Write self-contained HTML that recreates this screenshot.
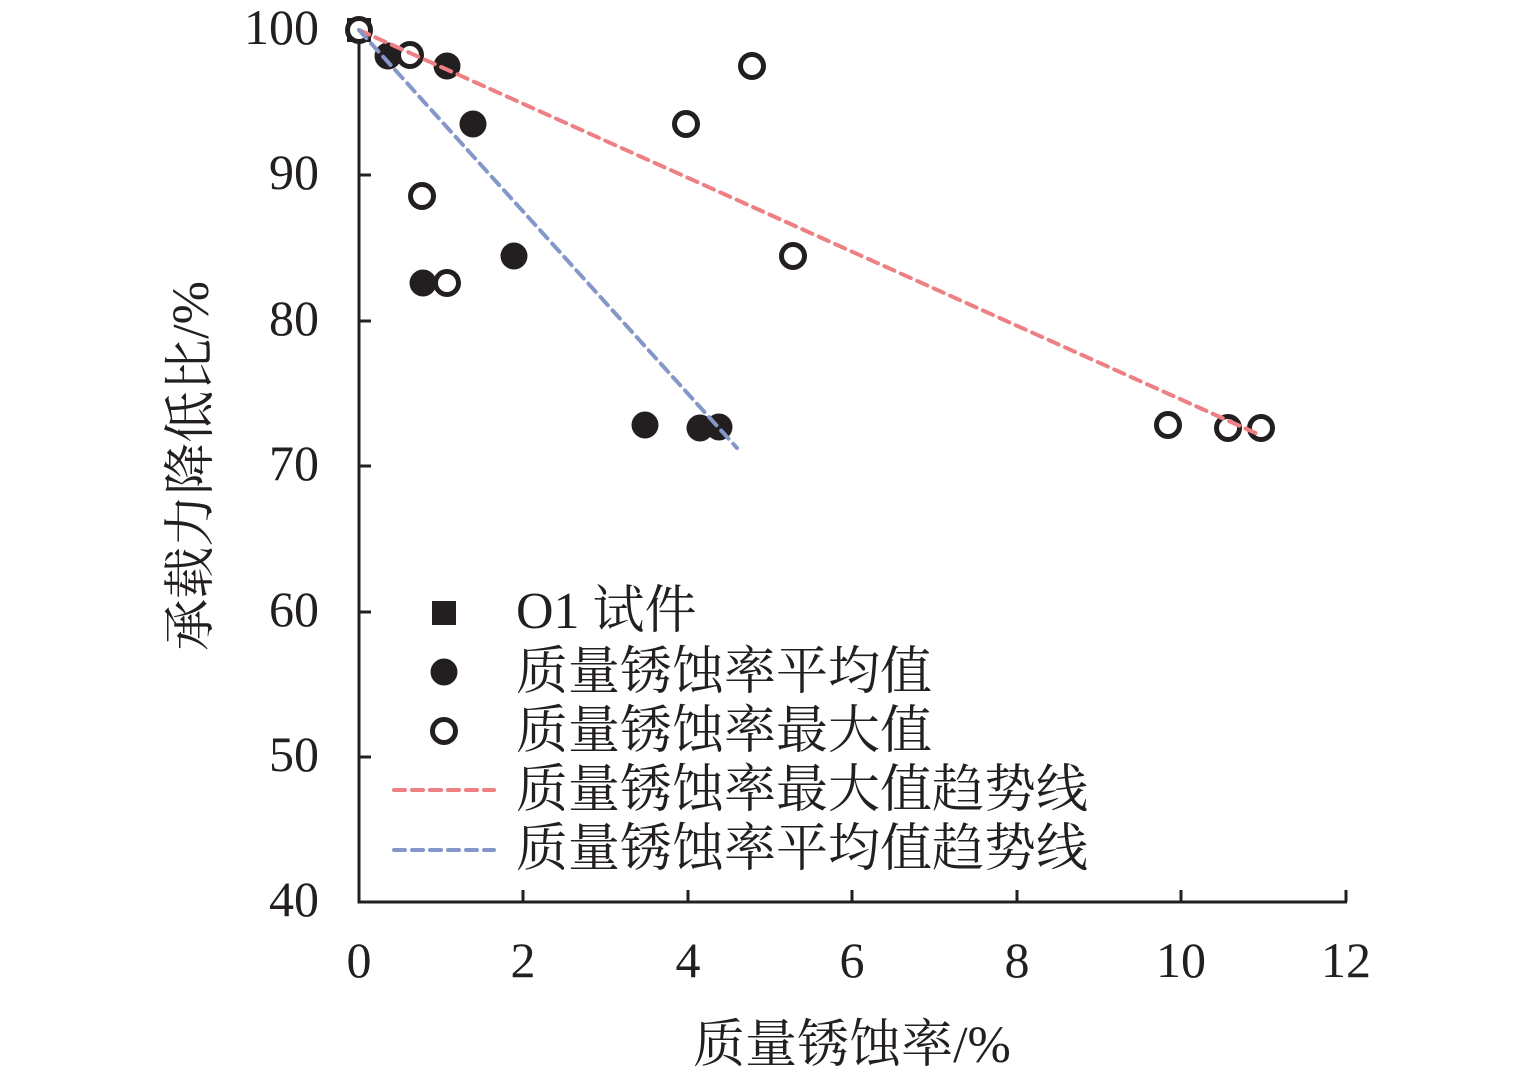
<!DOCTYPE html><html><head><meta charset="utf-8"><style>body{margin:0;background:#fff}svg text{font-family:"Liberation Serif","Noto Serif CJK SC",serif;fill:#231f20}</style></head><body>
<svg width="1535" height="1079" viewBox="0 0 1535 1079">
<g stroke="#231f20" stroke-width="3" fill="none">
<path d="M359,30V902H1347"/>
<path d="M359,175h12M359,321h12M359,466h12M359,612h12M359,757h12"/>
<path d="M523,902v-12M688,902v-12M852,902v-12M1017,902v-12M1181,902v-12M1346,902v-12"/>
</g>
<g font-size="50" text-anchor="end">
<text x="319" y="44">100</text><text x="319" y="189">90</text><text x="319" y="335">80</text><text x="319" y="480">70</text><text x="319" y="626">60</text><text x="319" y="771">50</text><text x="319" y="916">40</text>
</g>
<g font-size="50" text-anchor="middle">
<text x="359" y="977">0</text><text x="523" y="977">2</text><text x="688" y="977">4</text><text x="852" y="977">6</text><text x="1017" y="977">8</text><text x="1181" y="977">10</text><text x="1346" y="977">12</text>
</g>
<text x="852" y="1062" font-size="52" text-anchor="middle">质量锈蚀率/%</text>
<text font-size="52" text-anchor="middle" transform="translate(208,466) rotate(-90)">承载力降低比/%</text>
<rect x="347" y="18" width="24" height="24" fill="#231f20"/>
<g fill="#231f20">
<circle cx="388" cy="56" r="13.5"/><circle cx="447" cy="66" r="13.5"/><circle cx="473" cy="124" r="13.5"/><circle cx="423" cy="283" r="13.5"/><circle cx="514" cy="256" r="13.5"/><circle cx="645" cy="425" r="13.5"/><circle cx="700" cy="428" r="13.5"/><circle cx="719" cy="427" r="13.5"/>
</g>
<g fill="#fff" stroke="#231f20" stroke-width="5">
<circle cx="359" cy="30" r="11.5"/><circle cx="410" cy="55" r="11.5"/><circle cx="422" cy="196" r="11.5"/><circle cx="447" cy="283" r="11.5"/><circle cx="686" cy="124" r="11.5"/><circle cx="752" cy="66" r="11.5"/><circle cx="793" cy="256" r="11.5"/><circle cx="1168" cy="425" r="11.5"/><circle cx="1228" cy="428" r="11.5"/><circle cx="1261" cy="428" r="11.5"/>
</g>
<g stroke-width="4" stroke-dasharray="11 7" stroke-linecap="round" fill="none">
<path d="M359,30L1260,435" stroke="#ee7f82"/>
<path d="M359,30L737,448" stroke="#8497c8"/>
<path d="M394,790H494" stroke="#ee7f82"/>
<path d="M394,850H494" stroke="#8497c8"/>
</g>
<rect x="432" y="601" width="24" height="24" fill="#231f20"/>
<circle cx="444" cy="672" r="13.5" fill="#231f20"/>
<circle cx="444" cy="731" r="11.5" fill="#fff" stroke="#231f20" stroke-width="5"/>
<g font-size="52">
<text x="516" y="628">O1 试件</text>
<text x="516" y="689">质量锈蚀率平均值</text>
<text x="516" y="748">质量锈蚀率最大值</text>
<text x="516" y="807">质量锈蚀率最大值趋势线</text>
<text x="516" y="866">质量锈蚀率平均值趋势线</text>
</g>
</svg></body></html>
